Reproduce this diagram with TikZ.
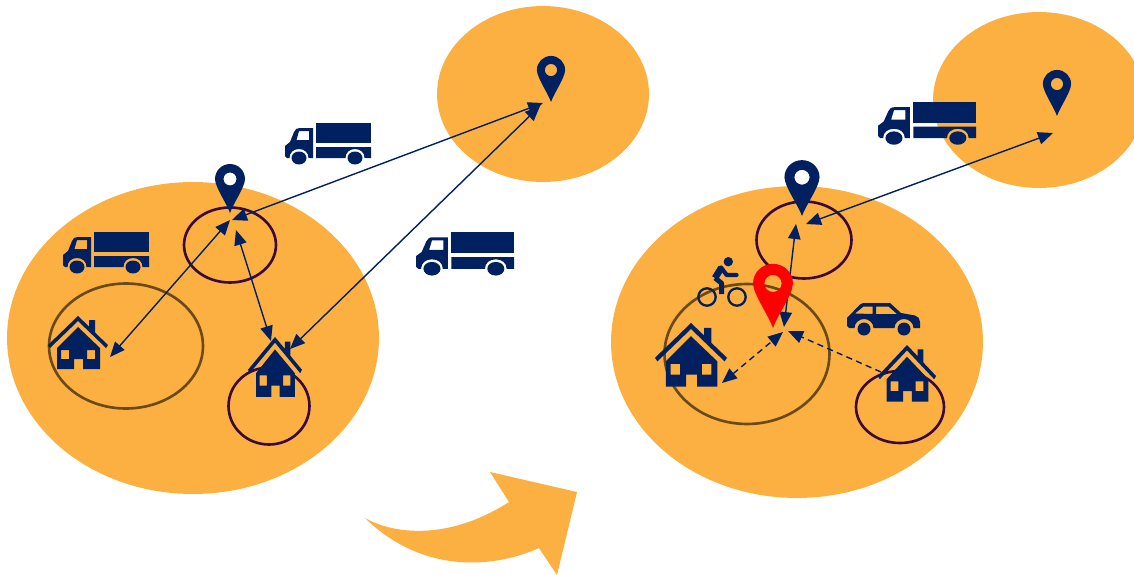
\documentclass[tikz,border=0pt]{standalone}
\usetikzlibrary{shapes.geometric, arrows.meta}

\definecolor{navy}{HTML}{002060}
\definecolor{zonefill}{HTML}{FDB042}
\definecolor{plum}{HTML}{3A0A3D}
\definecolor{umber}{HTML}{6B4A1A}

\begin{document}
\begin{tikzpicture}[
    x=0.02cm, y=-0.02cm,
    zone/.style={ellipse, fill=zonefill, inner sep=0pt, minimum width=7.44cm, minimum height=6.24cm},
    farzone/.style={ellipse, fill=zonefill, inner sep=0pt, minimum width=4.24cm, minimum height=3.52cm},
    ring/.style={ellipse, draw=plum, line width=1.5pt, inner sep=0pt, outer sep=0pt},
    wide ring/.style={ellipse, draw=umber, line width=1.5pt, inner sep=0pt, outer sep=0pt},
    >={Triangle[length=0.3cm, width=0.25cm]},
    link/.style={<->, navy, line width=0.8pt},
    soft link/.style={navy, line width=0.8pt, dash pattern=on 3.5pt off 2.5pt},
    pics/pin/.style={code={
        \fill[#1, even odd rule] (0,0) .. controls (-3,-9) and (-15,-26) .. (-15,-34)
            .. controls (-15,-42.3) and (-8.3,-49) .. (0,-49)
            .. controls (8.3,-49) and (15,-42.3) .. (15,-34)
            .. controls (15,-26) and (3,-9) .. (0,0) -- cycle
            (0,-34) circle [radius=6.5];
    }},
    pics/truck/.style={code={
        \fill[navy] (31,0) rectangle (86,20);
        \fill[navy] (31,24) -- (86,24) -- (86,35) -- (79.5,35)
            .. controls (79.5,29.5) and (75.5,26) .. (70,26)
            .. controls (64.5,26) and (60.5,29.5) .. (60.5,35) -- (31,35) -- cycle;
        \fill[navy, even odd rule] (0,33) -- (0,23) -- (5,19) -- (9,9)
            .. controls (10,6) and (12,5) .. (15,5) -- (28,5) -- (28,35) -- (23.5,35)
            .. controls (23.5,29.5) and (19.5,26) .. (14,26)
            .. controls (8.5,26) and (4.5,29.5) .. (4.5,35) -- (2,35) -- cycle
            (14,8) -- (24,8) -- (24,17) -- (11.5,17) -- cycle;
        \fill[navy] (14,35) ellipse [x radius=7.5, y radius=6.5];
        \fill[navy] (70,35) ellipse [x radius=7.5, y radius=6.5];
    }},
    pics/house/.style={code={
        % roof
        \fill[navy] (-30,29) -- (0,0) -- (11,10.5) -- (11,4) -- (17,4) -- (17,16.5) -- (30,29)
            -- (28,32) -- (0,5) -- (-28,32) -- cycle;
        % body
        \fill[navy, even odd rule] (-21,32) -- (0,11) -- (22,32) -- (22,53) -- (5,53) -- (5,43)
            -- (-4,43) -- (-4,53) -- (-21,53) -- cycle
            (-17,34) rectangle (-9,43)
            (9,34) rectangle (17,43);
    }},
    pics/car/.style={code={
        \fill[navy, even odd rule] (0,15) -- (13,1.5) .. controls (14,0.5) and (15,0) .. (16,0)
            -- (43,0) -- (54,10) -- (68,12.5) .. controls (71,13) and (73,16) .. (73,19)
            -- (73,25) -- (66.5,25) .. controls (66.5,20) and (62,16) .. (57,16)
            .. controls (52,16) and (47.5,20) .. (47.5,25) -- (26.5,25)
            .. controls (26.5,20) and (22,16) .. (17,16)
            .. controls (12,16) and (7.5,20) .. (7.5,25) -- (2,25) -- (0,23) -- cycle
            (8,10.5) -- (16.5,3.5) -- (25.5,3.5) -- (25.5,11) -- cycle
            (29,3.5) -- (41.5,3.5) -- (50,11) -- (29,11) -- cycle;
        \fill[navy] (17,26) circle [radius=6.5];
        \fill[navy] (57,26) circle [radius=6.5];
    }},
    pics/bike/.style={code={
        \draw[navy, line width=1.3pt] (-15,0) circle [radius=8.7];
        \draw[navy, line width=1.3pt] (15,0) circle [radius=8.7];
        \fill[navy] (6.3,-35.3) circle [radius=4.7];
        \draw[navy, line width=3.8pt, line join=round] (-7,-19) -- (-0.5,-29.5);
        \draw[navy, line width=2.4pt, line join=round, line cap=round] (-1,-29.5) -- (4.7,-22) -- (14.5,-22);
        \draw[navy, line width=2.8pt, line join=round] (-7,-19) -- (-0.3,-13.7) -- (-0.3,-3);
    }}
]

\useasboundingbox (0,0) rectangle (1134,575);

% Before: zones
\node[zone] (zoneA) at (193,338) {};
\node[farzone] (farA) at (543,94) {};
\node[ring, minimum width=1.84cm, minimum height=1.5cm] (storeA) at (230,245) {};
\node[wide ring, minimum width=3.08cm, minimum height=2.5cm] (homeA) at (126,346) {};
\node[ring, minimum width=1.62cm, minimum height=1.54cm] (homeB) at (269,406) {};

% After: zones
\node[zone] (zoneB) at (797,342) {};
\node[farzone] (farB) at (1039,100) {};
\node[ring, minimum width=1.9cm, minimum height=1.54cm] (storeB) at (804,240) {};
\node[wide ring, minimum width=3.3cm, minimum height=2.8cm] (homeC) at (747,354) {};
\node[ring, minimum width=1.76cm, minimum height=1.44cm] (homeD) at (900,407) {};

% Arrow ends
\coordinate (farA1) at (543,103);
\coordinate (farA2) at (540,106);
\coordinate (storeA1) at (232,220);
\coordinate (storeA2) at (230,220);
\coordinate (storeA3) at (236,230);
\coordinate (houseA) at (110,357);
\coordinate (houseB1) at (271,341);
\coordinate (houseB2) at (290,349);
\coordinate (farB1) at (1053,133);
\coordinate (storeB1) at (806,224);
\coordinate (storeB2) at (796,224);
\coordinate (hub1) at (784,327);
\coordinate (hub2) at (783,332);
\coordinate (hub3) at (788,331);
\coordinate (houseC) at (722,383);
\coordinate (houseD) at (881,372);

% Before: links
\draw[link] (storeA1) -- (farA1);
\draw[link] (houseB2) -- (farA2);
\draw[link] (houseA) -- (storeA2);
\draw[link] (storeA3) -- (houseB1);

% After: links
\draw[link] (storeB1) -- (farB1);
\draw[link] (storeB2) -- (hub1);
\draw[soft link, <->] (houseC) -- (hub2);
\draw[soft link, ->] (houseD) -- (hub3);

% Before: icons
\pic (truckA) at (285,123) {truck};
\pic (truckB) at (63,232) {truck};
\pic[xscale=1.14, yscale=1.05] (truckC) at (416,232) {truck};
\pic (houseIconA) at (78,316) {house};
\pic[xscale=0.9, yscale=1.13] (houseIconB) at (275,337) {house};
\pic (pinA) at (230,213) {pin=navy};
\pic[scale=0.94] (pinB) at (551,102) {pin=navy};

% After: icons
\pic[xscale=1.14, yscale=1.03] (truckD) at (878,102) {truck};
\pic[scale=1.2] (houseIconC) at (691,323) {house};
\pic[xscale=0.97, yscale=1.07] (houseIconD) at (907,345) {house};
\pic (bikeA) at (722,297) {bike};
\pic (carA) at (847,303) {car};
\pic[scale=0.94] (pinC) at (1057,116) {pin=navy};
\pic[xscale=1.17, yscale=1.14] (pinD) at (802,216) {pin=navy};
\pic[xscale=1.33, yscale=1.31] (pinE) at (773,328) {pin=red};

% Big arrow
\fill[zonefill] (365,518) .. controls (395,535) and (450,540) .. (509,502) -- (490,472)
    -- (577,492) -- (557,575) -- (539,548) .. controls (490,570) and (420,572) .. (365,518) -- cycle;

\end{tikzpicture}
\end{document}
